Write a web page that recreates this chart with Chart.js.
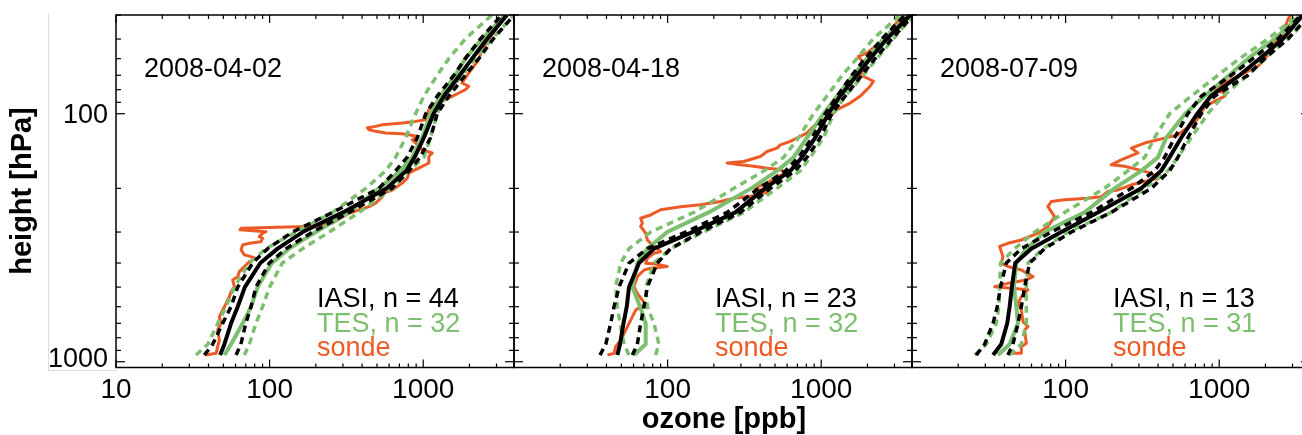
<!DOCTYPE html>
<html>
<head>
<meta charset="utf-8">
<script src="https://cdn.jsdelivr.net/npm/chart.js@4.4.1/dist/chart.umd.min.js"></script>
<style>
  body { margin: 0; background: #fff; overflow: hidden; width: 1302px; height: 435px; position: relative; }
  canvas { position: absolute; left: 0; top: 0; }
  #edge { position: absolute; left: 48px; top: 13px; width: 68px; height: 357px; border-left: 1px solid #ddd; border-bottom: 1px solid #ddd; }
</style>
</head>
<body>
<div id="edge"></div>
<canvas id="p0" width="1320" height="435"></canvas>
<canvas id="p1" width="1320" height="435"></canvas>
<canvas id="p2" width="1320" height="435"></canvas>
<script>
const dates = ['2008-04-02', '2008-04-18', '2008-07-09'];
const iasiN = [44, 23, 13];
const tesN = [32, 32, 31];
const xLabels = [10, 100, 1000];
const yLabels = [100, 1000];

// pressure levels (hPa) of the retrieved profiles
const gridP = [940, 850, 700, 600, 500, 400, 350, 300, 250, 200, 170, 150, 125, 100, 85, 70, 60, 50, 40];

// panel 1
const iasi1   = [47.6, 50.8, 56.1, 62, 69, 87, 112.7, 164, 300, 578, 776, 878, 1010, 1167, 1362, 1730, 2080, 2604, 3509];
const iasiLo1 = [37.6, 42.6, 49.5, 56.1, 62, 77.5, 97, 141, 257, 515, 661, 785, 916, 1039, 1234, 1582, 1876, 2357, 3248];
const iasiHi1 = [60.5, 65, 70, 75.7, 81.5, 99.5, 128, 190, 329, 626, 808, 954, 1116, 1234, 1467, 1876, 2297, 2855, 3900];
const tes1    = [50.8, 56.1, 66.8, 75.7, 83.6, 103.5, 134, 200, 329, 515, 711, 847, 985, 1116, 1296, 1618, 1876, 2414, 3420];
const tesLo1  = [33.2, 39.6, 46, 52.1, 59, 73.8, 94.7, 148, 257, 423, 569, 661, 768, 892, 1010, 1234, 1467, 1876, 2800];
const tesHi1  = [68.5, 73.8, 81.5, 90, 100, 121, 164, 244, 383, 626, 808, 1010, 1116, 1234, 1395, 1790, 2170, 2800, 3900];
const sondeP1 = [940, 925, 870, 818, 745, 700, 658, 619, 581, 547, 522, 498, 468, 454, 433, 413, 395, 383, 377, 371, 354, 338, 333, 328, 318, 313, 303, 299, 294, 289.5, 285, 281, 276, 252, 237, 229.5, 216, 212, 203, 190.5, 182, 173.6, 168, 163, 158, 148.7, 144, 139.8, 131.3, 127.4, 123.4, 121.6, 120.5, 119.7, 117.8, 116, 114, 112.5, 110.8, 109.1, 107.4, 105.7, 101, 96.3, 93.4, 90.6, 87.8, 85.1, 82.5, 80, 77.5, 75.2, 71.8, 68.5, 64.4, 60.5, 55.1, 50.2, 45.8, 41.7, 39.8];
const sondeO1 = [38.6, 44.8, 45.9, 47.1, 45.9, 48.3, 47.1, 49.5, 52.1, 54.7, 56.1, 59, 57.5, 62, 63.5, 68.5, 73.8, 81.5, 75.6, 68.5, 65.2, 66.8, 73.8, 87.8, 90.1, 85.7, 90.1, 94.7, 64.2, 65.2, 172, 221, 257, 329, 444, 490, 542, 515, 629, 730, 787, 807, 892, 985, 1088, 1088, 1144, 985, 892, 848, 914, 807, 730, 569, 490, 444, 433, 490, 542, 730, 892, 1036, 1062, 1088, 1116, 1203, 1396, 1543, 1705, 1883, 1980, 1791, 1883, 1980, 2133, 2299, 2416, 2670, 2950, 3260, 3424];

// panel 2
const iasi2   = [47.1, 49, 51.6, 54.2, 56.1, 65.2, 81.5, 145, 276, 430, 629, 749, 914, 1116, 1326, 1705, 2079, 2670, 3800];
const iasiLo2 = [36.3, 39.6, 42.6, 44.8, 48.3, 56.1, 73.8, 131, 244, 392, 585, 712, 872, 1062, 1269, 1582, 1930, 2479, 3515];
const iasiHi2 = [59, 63.5, 66.8, 70.2, 73.8, 85.7, 104.6, 164, 298, 466, 676, 808, 985, 1173, 1430, 1836, 2240, 2880, 3980];
const tes2    = [60.5, 72, 72, 66.2, 59, 63.5, 73.8, 99.5, 185, 350, 515, 661, 808, 1036, 1269, 1618, 1980, 2540, 3700];
const tesLo2  = [56.1, 52.1, 49, 47.1, 45.9, 49.5, 56.1, 77.5, 148, 270, 424, 569, 712, 892, 1088, 1368, 1705, 2175, 3260];
const tesHi2  = [83.6, 87.8, 81.5, 73.8, 72, 81.5, 104.6, 172, 313, 515, 730, 848, 1036, 1203, 1430, 1883, 2299, 2950, 3980];
const sondeP2 = [940, 925, 870, 818, 769, 700, 658, 619, 600, 590.5, 564, 530, 498, 454, 426.6, 420, 413, 403, 401, 383, 365, 360, 349, 333, 323, 303, 285, 276, 264, 256, 244, 237, 233, 226, 219, 214, 209, 208, 203, 199.6, 190.5, 179, 173.6, 168, 166, 163, 160.7, 158, 155.8, 148.7, 142, 137.6, 133.5, 129.3, 125.4, 119.7, 112.5, 107.4, 102.5, 99.4, 96.3, 93.4, 90.6, 85.1, 80, 77.5, 74, 71.8, 69.6, 66.4, 62.4, 58.7, 56.9, 54.3, 51.9, 50.2, 47.2, 44.4, 41.7, 39.8];
const sondeO2 = [40.6, 44.8, 45.9, 49.5, 52.1, 56.1, 59, 62, 66.8, 72, 68.5, 63.5, 60.4, 63.5, 70.2, 77.5, 99.5, 81.5, 72, 73.8, 81.5, 90.1, 85.7, 77.5, 73.8, 72, 66.8, 68.5, 66.8, 77.5, 90.1, 121.5, 164, 221, 270, 364, 422, 467, 402, 364, 444, 515, 598, 542, 444, 364, 298, 244, 313, 402, 444, 515, 542, 629, 695, 807, 892, 985, 1144, 1203, 1264, 1396, 1543, 1791, 1980, 2080, 2187, 1980, 1791, 1883, 1883, 1748, 1980, 2187, 2416, 2670, 2805, 2950, 3260, 3600];

// panel 3
const iasi3   = [33.7, 38.1, 41.7, 43.2, 44.7, 47, 59.8, 93.7, 162, 311, 419, 475, 566, 720, 880, 1356, 1830, 2597, 3503];
const iasiLo3 = [26.2, 29.7, 33.7, 35.9, 37.7, 41.1, 51.5, 80.7, 147, 268, 379, 441, 512, 625, 764, 1197, 1656, 2409, 3418];
const iasiHi3 = [42.1, 45.4, 49, 51.5, 54.1, 58.3, 73, 108.9, 198, 361, 475, 538, 625, 764, 932, 1537, 1972, 2799, 3870];
const tes3    = [36.3, 43.2, 49, 47.8, 46.1, 47.8, 55.5, 73, 133, 208, 311, 399, 452, 600, 800, 1160, 1537, 2292, 3418];
const tesLo3  = [25.6, 30.5, 35.4, 36.8, 37.2, 37.7, 46.6, 62.9, 98.5, 179, 254, 327, 379, 475, 657, 980, 1356, 2074, 3251];
const tesHi3  = [43.2, 51.5, 55.5, 55.5, 55.5, 56.9, 71.2, 103.6, 198, 327, 463, 538, 657, 844, 1057, 1537, 1972, 2799, 3969];
const sondeP3 = [925, 925, 870, 843, 745, 722, 690, 619, 581, 547, 513, 506, 498, 483, 468, 454, 426.6, 413, 401, 377, 343, 333, 323, 303, 285, 260, 237, 226, 222.5, 219, 216, 206, 203, 193.5, 187.6, 182, 173.6, 168, 163, 160.7, 153.4, 144, 137.6, 131.3, 125.4, 121.6, 116, 109.1, 99.4, 93.4, 90.6, 87.8, 85.1, 82.5, 81.2, 80, 76.4, 72.9, 68.5, 64.4, 60.5, 55.1, 51.9, 48.7, 45.8, 41.7, 39.8];
const sondeO3 = [42.1, 51.5, 51.5, 55.5, 54.1, 56.9, 52.8, 51.5, 49, 51.5, 56.9, 44.3, 34.5, 42.1, 55.5, 61.3, 51.5, 42.1, 38.1, 39.1, 37.2, 42.1, 51.5, 66.1, 76.7, 84.8, 76.7, 80.7, 98.5, 139.7, 170.7, 188.6, 219, 268, 327, 399, 361, 296, 242, 198, 230, 296, 268, 327, 441, 538, 595, 691, 764, 803, 887, 980, 1083, 1111, 980, 932, 1030, 1197, 1462, 1785, 1972, 2180, 2292, 2532, 2662, 2799, 2942];

const panels = [
  { iasi: iasi1, iasiLo: iasiLo1, iasiHi: iasiHi1, tes: tes1, tesLo: tesLo1, tesHi: tesHi1, sondeP: sondeP1, sondeO: sondeO1 },
  { iasi: iasi2, iasiLo: iasiLo2, iasiHi: iasiHi2, tes: tes2, tesLo: tesLo2, tesHi: tesHi2, sondeP: sondeP2, sondeO: sondeO2 },
  { iasi: iasi3, iasiLo: iasiLo3, iasiHi: iasiHi3, tes: tes3, tesLo: tesLo3, tesHi: tesHi3, sondeP: sondeP3, sondeO: sondeO3 },
];

const BLACK = '#000000';
const GREEN = '#7cbf6e';
const ORANGE = '#ee5a26';
const FONT = "'Liberation Sans', Arial, Helvetica, sans-serif";
const lefts = [116, 514, 912];
const panelW = 398;
const W = 1320, H = 435;

function pts(xs, ps) {
  return xs.map((v, i) => ({ x: v, y: ps[i] }));
}

function line(color, width, dashed) {
  return {
    borderColor: color,
    borderWidth: width,
    borderDash: dashed ? [7, 5] : [],
    showLine: true,
    pointRadius: 0,
    fill: false,
    tension: 0,
    clip: 0,
    borderJoinStyle: 'round',
  };
}

const framePlugin = {
  id: 'frame',
  afterDatasetsDraw(chart) {
    const idx = chart.options.plugins.frame.panel;
    const { ctx, chartArea: a, scales: { x, y } } = chart;
    ctx.save();
    ctx.strokeStyle = '#000';
    ctx.lineWidth = 1.5;
    const seg = (x1, y1, x2, y2) => { ctx.beginPath(); ctx.moveTo(x1, y1); ctx.lineTo(x2, y2); ctx.stroke(); };
    ctx.strokeRect(a.left, a.top, a.right - a.left, a.bottom - a.top);

    ctx.lineWidth = 1.2;
    for (let d = 10; d <= 1000; d *= 10) {
      for (let k = 1; k < 10; k++) {
        const v = d * k;
        if (v > x.max) break;
        const px = x.getPixelForValue(v);
        const len = k === 1 ? 8 : 4;
        seg(px, a.bottom, px, a.bottom - len);
        seg(px, a.top, px, a.top + len);
      }
    }
    for (let d = 10; d <= 1000; d *= 10) {
      for (let k = 1; k < 10; k++) {
        const v = d * k;
        if (v < y.min || v > y.max) continue;
        const py = y.getPixelForValue(v);
        const len = k === 1 ? 9 : 5;
        seg(a.left, py, a.left + len, py);
        seg(a.right, py, a.right - len, py);
      }
    }

    ctx.fillStyle = '#000';
    ctx.textBaseline = 'alphabetic';
    ctx.font = '28px ' + FONT;
    ctx.textAlign = 'center';
    xLabels.forEach(v => {
      if (idx > 0 && v === 10) return;
      ctx.fillText(String(v), x.getPixelForValue(v), 398);
    });

    if (idx === 0) {
      ctx.font = '27px ' + FONT;
      ctx.textAlign = 'right';
      yLabels.forEach(v => {
        const py = Math.min(y.getPixelForValue(v) + 9.7, 367);
        ctx.fillText(String(v), 108, py);
      });
      ctx.save();
      ctx.font = 'bold 29px ' + FONT;
      ctx.textAlign = 'center';
      ctx.translate(31, 191);
      ctx.rotate(-Math.PI / 2);
      ctx.fillText('height [hPa]', 0, 0);
      ctx.restore();
    }
    if (idx === 1) {
      ctx.font = 'bold 29px ' + FONT;
      ctx.textAlign = 'center';
      ctx.fillText('ozone [ppb]', 724, 428);
    }

    ctx.textAlign = 'left';
    ctx.font = '27px ' + FONT;
    ctx.fillText(dates[idx], a.left + 28, 77);
    ctx.fillText('IASI, n = ' + iasiN[idx], a.left + 201, 307);
    ctx.fillStyle = GREEN;
    ctx.fillText('TES, n = ' + tesN[idx], a.left + 201, 331.5);
    ctx.fillStyle = ORANGE;
    ctx.fillText('sonde', a.left + 201, 355.5);
    ctx.restore();
  }
};

panels.forEach((p, i) => {
  const datasets = [
    { data: pts(p.iasi, gridP), ...line(BLACK, 4, false) },
    { data: pts(p.iasiLo, gridP), ...line(BLACK, 3.5, true) },
    { data: pts(p.iasiHi, gridP), ...line(BLACK, 3.5, true) },
    { data: pts(p.tes, gridP), ...line(GREEN, 4, false) },
    { data: pts(p.tesLo, gridP), ...line(GREEN, 3.5, true) },
    { data: pts(p.tesHi, gridP), ...line(GREEN, 3.5, true) },
    { data: pts(p.sondeO, p.sondeP), ...line(ORANGE, 3, false) },
  ];
  datasets.forEach((d, k) => { d.order = k; });

  new Chart(document.getElementById('p' + i).getContext('2d'), {
    type: 'scatter',
    data: { datasets },
    options: {
      responsive: false,
      animation: false,
      devicePixelRatio: 1,
      events: [],
      layout: {
        padding: { left: lefts[i], right: W - lefts[i] - panelW, top: 15, bottom: H - 367.5 }
      },
      plugins: {
        legend: { display: false },
        tooltip: { enabled: false },
        frame: { panel: i }
      },
      scales: {
        x: { type: 'logarithmic', min: 10, max: 3900, display: false },
        y: { type: 'logarithmic', min: 40, max: 1055, reverse: true, display: false }
      }
    },
    plugins: [framePlugin]
  });
});
</script>
</body>
</html>
